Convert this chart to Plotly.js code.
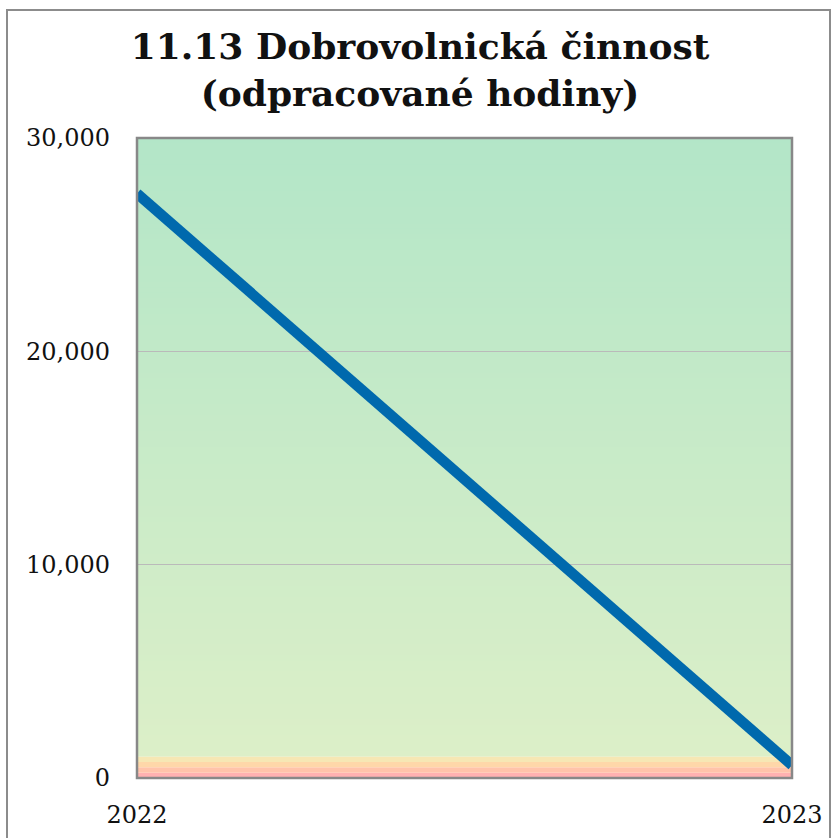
<!DOCTYPE html>
<html>
<head>
<meta charset="utf-8">
<script src="https://cdn.plot.ly/plotly-3.0.1.min.js"></script>
<style>
  html, body { margin: 0; padding: 0; background: #fff; }
  #wrap { position: relative; width: 840px; height: 838px; overflow: hidden; }
  #chart { position: absolute; left: 0; top: 0; width: 840px; height: 838px; }
  #frame { position: absolute; left: 6px; top: 9px; width: 825px; height: 850px;
           border: 2px solid #8c8c8c; pointer-events: none; box-sizing: border-box; }
</style>
</head>
<body>
<div id="wrap">
  <div id="chart"></div>
  <div id="frame"></div>
</div>
<script>
// ---- data ----
const years = [2022, 2023];
const hours = [27400, 600];
const yTickVals = [0, 10000, 20000, 30000];
const yTickText = ["0", "10,000", "20,000", "30,000"];
const xTickVals = [2022, 2023];
const xTickText = ["2022", "2023"];
const bandEdges = [0, 250, 500, 750, 1000];
const bandColors = ["#ffb1b1", "#ffc3aa", "#fed7a9", "#f6e7b4"];
const titleText = "11.13 Dobrovolnická činnost<br>(odpracované hodiny)";

// ---- styling constants ----
const yMax = 30000;
const gradBottom = [220, 239, 200];
const gradTop = [179, 230, 200];
const fontFam = "DejaVu Serif, Georgia, serif";

const shapes = [];
// background gradient strips (decoration); each strip extends to the top so no seams show
const gStart = bandEdges[bandEdges.length - 1];
const nStrips = 116;
for (let i = 0; i < nStrips; i++) {
  const y0 = gStart + (yMax - gStart) * i / nStrips;
  const t = (i + 0.5) / nStrips;
  const c = gradBottom.map((v, k) => Math.round(v + (gradTop[k] - v) * t));
  shapes.push({type: "rect", xref: "paper", yref: "y", x0: 0, x1: 1, y0: y0, y1: yMax,
    fillcolor: `rgb(${c[0]},${c[1]},${c[2]})`, line: {width: 0}, layer: "below"});
}
// threshold bands
for (let i = 0; i < bandColors.length; i++) {
  shapes.push({type: "rect", xref: "paper", yref: "y", x0: 0, x1: 1,
    y0: bandEdges[i], y1: bandEdges[i + 1],
    fillcolor: bandColors[i], line: {width: 0}, layer: "below"});
}
// plot frame
shapes.push({type: "rect", xref: "paper", yref: "paper", x0: 0, x1: 1, y0: 0, y1: 1,
  line: {color: "#888888", width: 2.5}, fillcolor: "rgba(0,0,0,0)", layer: "above"});

const traces = [{
  x: years, y: hours, type: "scatter", mode: "lines",
  line: {color: "#0069ad", width: 10.5},
  hoverinfo: "skip", showlegend: false
}];

const layout = {
  width: 840, height: 838,
  margin: {l: 137, r: 48, t: 138, b: 60},
  paper_bgcolor: "rgba(0,0,0,0)",
  plot_bgcolor: "rgba(0,0,0,0)",
  title: {
    text: titleText,
    font: {family: fontFam, size: 36, color: "#111", weight: "bold"},
    x: 0.5, xref: "container", xanchor: "center",
    y: 0.929, yref: "container", yanchor: "top"
  },
  xaxis: {
    range: [2022, 2023], tickvals: xTickVals, ticktext: xTickText,
    showgrid: false, zeroline: false, showline: false, ticks: "",
    ticklabelstandoff: 20,
    tickfont: {family: fontFam, size: 24, color: "#111"}, fixedrange: true
  },
  yaxis: {
    range: [0, yMax], tickvals: yTickVals, ticktext: yTickText,
    showgrid: true, gridcolor: "#bababa", gridwidth: 1.2,
    zeroline: false, showline: false, ticks: "",
    ticklabelstandoff: 26,
    tickfont: {family: fontFam, size: 24, color: "#111"}, fixedrange: true
  },
  shapes: shapes,
  showlegend: false
};

Plotly.newPlot("chart", traces, layout, {displayModeBar: false, staticPlot: true});
</script>
</body>
</html>
